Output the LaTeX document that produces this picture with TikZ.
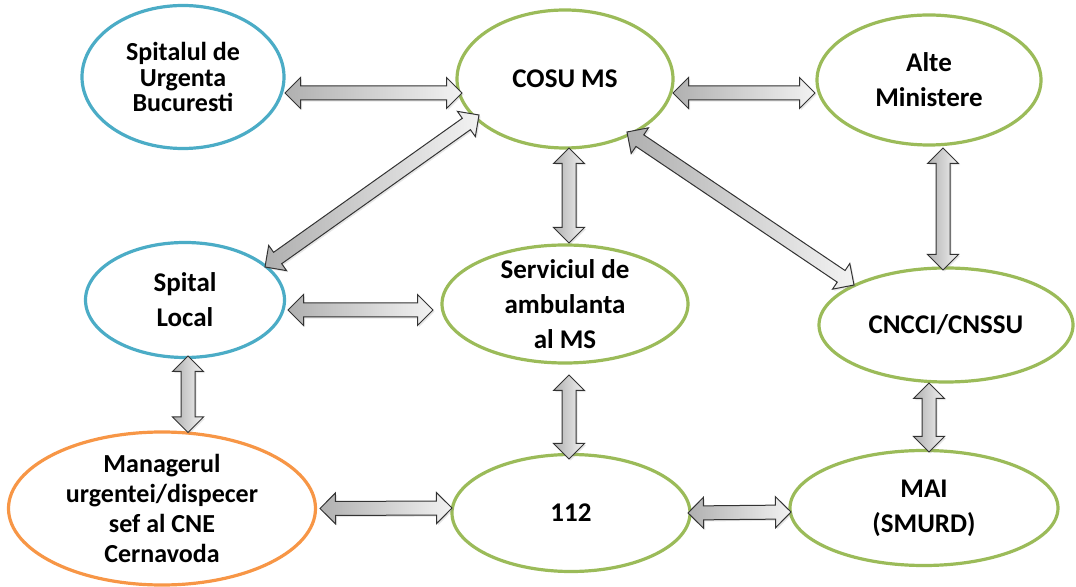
\documentclass[tikz,border=0pt]{standalone}
\usepackage{fontspec}
\setmainfont{Carlito}
\usetikzlibrary{shapes.geometric,shapes.arrows,calc,shadows}

\definecolor{hospblue}{HTML}{4BACC6}
\definecolor{msgreen}{HTML}{9BBB59}
\definecolor{cneorange}{HTML}{F79646}

% fat two-headed arrow between two points
\newcommand{\linkarrow}[2]{%
  \path let \p1=#1, \p2=#2, \n1={veclen(\x2-\x1,\y2-\y1)} in
    (\p1) -- node[fatarrow,sloped,minimum height=\n1] {} (\p2);}

\begin{document}
\begin{tikzpicture}[x=0.5pt,y=-0.5pt,
    unit/.style={ellipse,draw,line width=1.6pt,fill=white,inner sep=0pt,align=center,
                 font=\bfseries\fontsize{13.5}{17.5}\selectfont},
    fatarrow/.style={double arrow,draw=black!80,line width=0.5pt,
                 double arrow head extend=4.25pt,inner xsep=0pt,inner ysep=3.25pt,
                 left color=gray!62,right color=gray!10,
                 drop shadow={opacity=0.2,shadow xshift=0.8pt,shadow yshift=-0.8pt}}]
        \useasboundingbox (0,0) rectangle (1076,587);

        \node[unit,draw=hospblue,minimum width=101pt,minimum height=71.5pt,
              font=\bfseries\fontsize{13}{12.8}\selectfont] (sub) at (183,77) {Spitalul de\\Urgenta\\Bucuresti};
        \node[unit,draw=msgreen,minimum width=108pt,minimum height=69pt] (cosu) at (565,79) {COSU MS};
        \node[unit,draw=msgreen,minimum width=112pt,minimum height=65pt] (alte) at (929,80) {Alte\\Ministere};
        \node[unit,draw=hospblue,minimum width=99.5pt,minimum height=57.5pt] (local) at (185,300) {Spital\\Local};
        \node[unit,draw=msgreen,minimum width=123pt,minimum height=59pt,inner ysep=-5pt] (amb) at (565,304) {Serviciul de\\ambulanta\\al MS};
        \node[unit,draw=msgreen,minimum width=127pt,minimum height=57pt] (cnc) at (946,325) {CNCCI/CNSSU};
        \node[unit,draw=cneorange,minimum width=153.5pt,minimum height=76.5pt,inner ysep=-3pt,
              font=\bfseries\fontsize{13}{15}\selectfont] (mgr) at (162,508.5) {Managerul\\urgentei/dispecer\\sef al CNE\\Cernavoda};
        \node[unit,draw=msgreen,minimum width=119pt,minimum height=58.5pt] (n112) at (571,513) {112};
        \node[unit,draw=msgreen,minimum width=134pt,minimum height=57.5pt] (mai) at (924,508) {MAI\\(SMURD)};

        \linkarrow{($(sub)+(102,16)$)}{($(cosu)+(-103,14)$)}
        \linkarrow{($(cosu)+(108,14)$)}{($(alte)+(-114,13)$)}
        \linkarrow{($(cosu)+(4,69)$)}{($(amb)+(4,-61)$)}
        \linkarrow{($(local)+(80,-33)$)}{($(cosu)+(-86,36)$)}
        \linkarrow{($(cosu)+(62,53)$)}{($(cnc)+(-92,-40)$)}
        \linkarrow{($(alte)+(14,68)$)}{($(cnc)+(-3,-55)$)}
        \linkarrow{($(local)+(103,10)$)}{($(amb)+(-132,6)$)}
        \linkarrow{($(local)+(3,56)$)}{($(mgr)+(26,-76)$)}
        \linkarrow{($(amb)+(4,71)$)}{($(n112)+(-2,-54)$)}
        \linkarrow{($(cnc)+(-17,58)$)}{($(mai)+(5,-56)$)}
        \linkarrow{($(mgr)+(158,0)$)}{($(n112)+(-119,-5)$)}
        \linkarrow{($(n112)+(117,0)$)}{($(mai)+(-133,4)$)}
    \end{tikzpicture}
\end{document}
